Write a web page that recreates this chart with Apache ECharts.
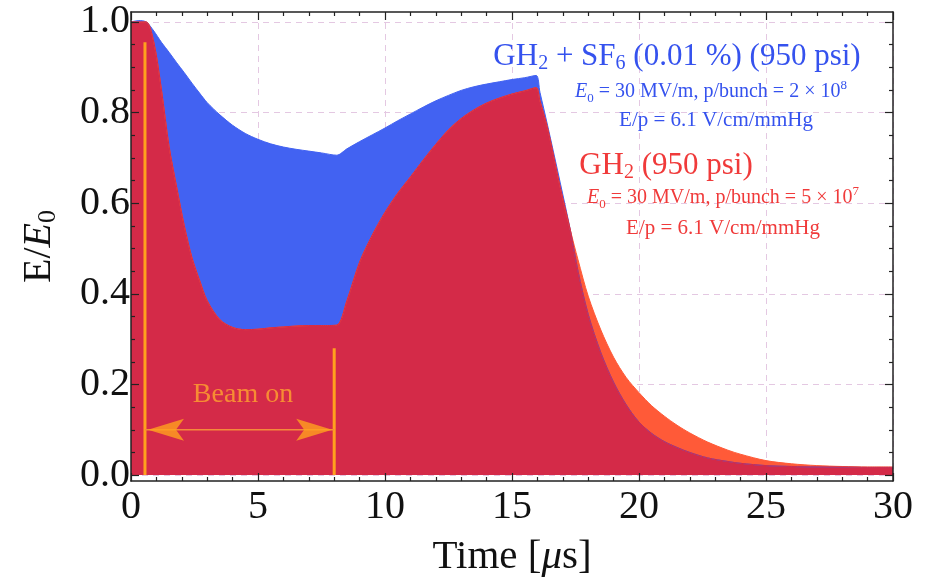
<!DOCTYPE html>
<html>
<head>
<meta charset="utf-8">
<script src="https://cdn.jsdelivr.net/npm/echarts@6/dist/echarts.min.js"></script>
<style>
html,body{margin:0;padding:0;background:#fff;}
#chart{width:931px;height:585px;}
</style>
</head>
<body>
<div id="chart"></div>
<script>
// time axis in microseconds, shared by both curves
var timeUs = [0, 0.3, 0.6, 0.9, 1.2, 1.5, 1.8, 2.1, 2.4, 2.7,
  3.0, 3.5, 4.0, 4.5, 5.0, 5.5, 6.0, 6.5, 7.0, 7.5,
  8.1, 8.5, 9.0, 9.5, 10.0, 10.5, 11.0, 11.5, 12.0, 12.5,
  13.0, 13.5, 14.0, 14.5, 15.0, 15.5, 15.95, 16.1, 16.4, 16.9, 17.3,
  17.6, 18.0, 18.5, 19.0, 19.5, 20.0, 20.5, 21.0, 21.5, 22.0,
  22.7, 23.5, 24.0, 25.0, 26.0, 27.0, 28.0, 29.0, 30.0];
// E/E0 for GH2 + SF6 (0.01 %)
var fieldSF6 = [1.0, 1.003, 1.0, 0.98, 0.955, 0.933, 0.91, 0.888, 0.865, 0.843,
  0.822, 0.795, 0.772, 0.754, 0.741, 0.731, 0.724, 0.719, 0.715, 0.711,
  0.706, 0.72, 0.736, 0.751, 0.766, 0.782, 0.797, 0.812, 0.826, 0.838,
  0.849, 0.857, 0.863, 0.868, 0.873, 0.877, 0.882, 0.845, 0.772, 0.645, 0.54,
  0.45, 0.355, 0.27, 0.205, 0.155, 0.117, 0.092, 0.074, 0.061, 0.05,
  0.038, 0.03, 0.026, 0.021, 0.019, 0.018, 0.018, 0.017, 0.017];
// E/E0 for pure GH2
var fieldH2 = [1.0, 1.0, 1.0, 0.955, 0.85, 0.725, 0.635, 0.55, 0.48, 0.43,
  0.385, 0.343, 0.326, 0.321, 0.322, 0.325, 0.327, 0.329, 0.33, 0.33,
  0.331, 0.385, 0.47, 0.53, 0.58, 0.622, 0.658, 0.695, 0.73, 0.762,
  0.787, 0.806, 0.821, 0.832, 0.841, 0.848, 0.855, 0.826, 0.766, 0.635, 0.54,
  0.475, 0.395, 0.32, 0.26, 0.215, 0.182, 0.153, 0.13, 0.11, 0.093,
  0.073, 0.055, 0.046, 0.032, 0.025, 0.021, 0.019, 0.018, 0.018];

var yMajorTicks = [0, 0.2, 0.4, 0.6, 0.8, 1.0];
var yMinorTicks = [0.05, 0.1, 0.15, 0.25, 0.3, 0.35, 0.45, 0.5, 0.55, 0.65, 0.7, 0.75, 0.85, 0.9, 0.95];

// beam on / off markers
var beamOn = [0.55, 8.0];
var beamLineTop = [0.955, 0.28];
var arrowLevel = 0.1;
var beamLabelAt = [4.41, 0.177];

var BLUE = '#4262f2', ORANGE = '#ff5a38', CRIMSON = '#d42a48', BEAM = '#ffa11e';
var SERIF = '"Liberation Serif", "DejaVu Serif", serif';
var TXT_BLUE = '#3552ee', TXT_RED = '#f03a3a';

function pairs(ys) {
  return timeUs.map(function (t, i) { return [t, ys[i]]; });
}
// where both fills overlap
var fieldBoth = fieldSF6.map(function (v, i) { return Math.min(v, fieldH2[i]); });

function area(name, ys, color) {
  return {
    name: name, type: 'line', data: pairs(ys), symbol: 'none', silent: true,
    smooth: 0.3,
    lineStyle: { width: 1, color: color },
    areaStyle: { color: color, opacity: 1 },
    z: 2
  };
}

// small annotation block: E0 = ..., p/bunch = ...
function paramRich(color) {
  return {
    i: { fontSize: 20, fontFamily: SERIF, fontStyle: 'italic', fill: color, lineHeight: 26 },
    n: { fontSize: 20, fontFamily: SERIF, fill: color, lineHeight: 26 },
    s: { fontSize: 13, fontFamily: SERIF, fill: color, lineHeight: 16, verticalAlign: 'bottom' },
    p: { fontSize: 13, fontFamily: SERIF, fill: color, lineHeight: 10, verticalAlign: 'top' }
  };
}
function titleRich(color) {
  return {
    a: { fontSize: 31, fontFamily: SERIF, fill: color, lineHeight: 34 },
    s: { fontSize: 20, fontFamily: SERIF, fill: color, lineHeight: 20, verticalAlign: 'bottom' }
  };
}

var frame = { show: true, onZero: false, lineStyle: { color: '#222', width: 1.5 } };
var tickStyle = { color: '#222', width: 1.2 };
var gridDash = { show: true, lineStyle: { color: '#e4c8e2', width: 1, type: [6, 5] } };

var myChart = echarts.init(document.getElementById('chart'));

var xBase = { type: 'value', min: 0, max: 30, interval: 5, splitLine: { show: false } };
var yBase = { type: 'value', min: -0.013, max: 1.022, splitLine: { show: false } };

var option = {
  backgroundColor: '#fff',
  animation: false,
  grid: { left: 131, right: 38, top: 12, bottom: 104 },
  xAxis: [
    Object.assign({}, xBase, {
      position: 'bottom', z: 5, axisLine: frame,
      axisTick: { inside: true, length: 8, lineStyle: tickStyle },
      minorTick: { show: true, splitNumber: 5, length: 4, lineStyle: tickStyle },
      axisLabel: { margin: 6, fontSize: 40, fontFamily: SERIF, color: '#111' },
      name: '{n|Time [}{i|μ}{n|s]}', nameLocation: 'middle', nameGap: 56,
      nameTextStyle: { rich: {
        n: { fontSize: 41, fontFamily: SERIF, color: '#111' },
        i: { fontSize: 41, fontFamily: SERIF, fontStyle: 'italic', color: '#111' }
      } }
    }),
    Object.assign({}, xBase, {
      position: 'top', z: 5, axisLine: frame,
      axisTick: { inside: true, length: 8, lineStyle: tickStyle },
      minorTick: { show: true, splitNumber: 5, length: 4, lineStyle: tickStyle },
      axisLabel: { show: false }
    }),
    Object.assign({}, xBase, {
      position: 'bottom', axisLine: { show: false, onZero: false }, axisTick: { show: false }, axisLabel: { show: false },
      splitLine: gridDash
    })
  ],
  yAxis: [
    Object.assign({}, yBase, {
      position: 'left', z: 5, axisLine: frame,
      axisTick: { inside: true, length: 8, lineStyle: tickStyle, customValues: yMajorTicks },
      axisLabel: { margin: 1, fontSize: 40, fontFamily: SERIF, color: '#111', customValues: yMajorTicks,
        formatter: function (v) { return v.toFixed(1); } },
      name: '{n|E/}{i|E}{s|0}', nameLocation: 'middle', nameGap: 70, nameRotate: 90,
      nameTextStyle: { rich: {
        n: { fontSize: 40, fontFamily: SERIF, color: '#111', lineHeight: 44 },
        i: { fontSize: 40, fontFamily: SERIF, fontStyle: 'italic', color: '#111', lineHeight: 44 },
        s: { fontSize: 26, fontFamily: SERIF, color: '#111', lineHeight: 24, verticalAlign: 'bottom' }
      } }
    }),
    Object.assign({}, yBase, {
      position: 'right', z: 5, axisLine: frame,
      axisTick: { inside: true, length: 8, lineStyle: tickStyle, customValues: yMajorTicks },
      axisLabel: { show: false }
    }),
    Object.assign({}, yBase, {
      position: 'left', z: 5, axisLine: { show: false, onZero: false },
      axisTick: { inside: true, length: 4, lineStyle: tickStyle, customValues: yMinorTicks },
      axisLabel: { show: false }
    }),
    Object.assign({}, yBase, {
      position: 'right', z: 5, axisLine: { show: false, onZero: false },
      axisTick: { inside: true, length: 4, lineStyle: tickStyle, customValues: yMinorTicks },
      axisLabel: { show: false }
    }),
    Object.assign({}, yBase, {
      position: 'left', axisLine: { show: false, onZero: false },
      axisTick: { show: false, customValues: yMajorTicks }, axisLabel: { show: false, customValues: yMajorTicks },
      splitLine: gridDash
    })
  ],
  series: [
    area('GH2 + SF6', fieldSF6, BLUE),
    area('GH2', fieldH2, ORANGE),
    area('both', fieldBoth, CRIMSON)
  ].concat(beamOn.map(function (t, i) {
    return {
      type: 'line', symbol: 'none', silent: true, z: 4,
      data: [[t, 0], [t, beamLineTop[i]]],
      lineStyle: { color: BEAM, width: 3 }
    };
  })).concat([
    {
      type: 'line', symbol: 'none', silent: true, z: 4,
      data: [[beamOn[0], arrowLevel], [beamOn[1], arrowLevel]],
      lineStyle: { color: '#f58a3a', width: 1.6 }
    },
    {
      type: 'scatter', silent: true, z: 4,
      data: [[beamOn[0], arrowLevel]],
      symbol: 'path://M36,0 L0,11 L36,22 L28,11 Z', symbolSize: [36, 22], symbolOffset: [21, 0],
      itemStyle: { color: BEAM }
    },
    {
      type: 'scatter', silent: true, z: 4,
      data: [[beamOn[1], arrowLevel]],
      symbol: 'path://M0,0 L36,11 L0,22 L8,11 Z', symbolSize: [36, 22], symbolOffset: [-20, 0],
      itemStyle: { color: BEAM }
    },
    {
      type: 'scatter', silent: true, z: 4, symbolSize: 0,
      data: [beamLabelAt],
      label: { show: true, position: 'inside', formatter: 'Beam on',
        fontSize: 28, fontFamily: SERIF, color: '#ffa52e' }
    }
  ]),
  graphic: [
    { type: 'text', x: 677, y: 57, z: 10, silent: true, style: {
      text: '{a|GH}{s|2}{a| + SF}{s|6}{a| (0.01 %) (950 psi)}', align: 'center', verticalAlign: 'middle',
      rich: titleRich(TXT_BLUE) } },
    { type: 'text', x: 711, y: 92, z: 10, silent: true, style: {
      text: '{i|E}{s|0}{n| = 30 MV/m, p/bunch = 2 × 10}{p|8}', align: 'center', verticalAlign: 'middle',
      rich: paramRich(TXT_BLUE) } },
    { type: 'text', x: 716, y: 120, z: 10, silent: true, style: {
      text: 'E/p = 6.1 V/cm/mmHg', align: 'center', verticalAlign: 'middle',
      fontSize: 21, fontFamily: SERIF, fill: TXT_BLUE } },
    { type: 'text', x: 666, y: 166, z: 10, silent: true, style: {
      text: '{a|GH}{s|2}{a| (950 psi)}', align: 'center', verticalAlign: 'middle',
      rich: titleRich(TXT_RED) } },
    { type: 'text', x: 723, y: 198, z: 10, silent: true, style: {
      text: '{i|E}{s|0}{n| = 30 MV/m, p/bunch = 5 × 10}{p|7}', align: 'center', verticalAlign: 'middle',
      rich: paramRich(TXT_RED) } },
    { type: 'text', x: 723, y: 228, z: 10, silent: true, style: {
      text: 'E/p = 6.1 V/cm/mmHg', align: 'center', verticalAlign: 'middle',
      fontSize: 21, fontFamily: SERIF, fill: TXT_RED } }
  ]
};
myChart.setOption(option);
</script>
</body>
</html>
